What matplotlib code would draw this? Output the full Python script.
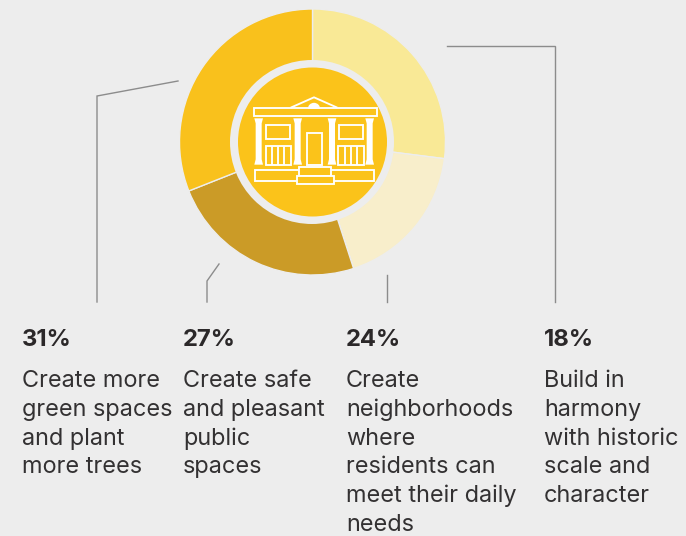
import matplotlib
matplotlib.use("Agg")
import matplotlib.pyplot as plt
from matplotlib.patches import Circle, Rectangle, Polygon, Wedge

# Survey shares, clockwise from twelve o'clock
shares = [27, 18, 24, 31]
slice_colors = ["#f9e996", "#f8eecb", "#cb9b27", "#f9c11c"]

pct_labels = ["31%", "27%", "24%", "18%"]
descriptions = [
    ["Create more", "green spaces", "and plant", "more trees"],
    ["Create safe", "and pleasant", "public", "spaces"],
    ["Create", "neighborhoods", "where", "residents can", "meet their daily", "needs"],
    ["Build in", "harmony", "with historic", "scale and", "character"],
]
text_x = [22, 183, 346, 544]
leaders = [
    [(178, 81), (97, 96), (97, 302)],
    [(219, 264), (207, 281), (207, 302)],
    [(387, 275), (387, 302)],
    [(447, 46), (555, 46), (555, 302)],
]

BG = "#ededed"
GOLD = "#fbc31a"
W, H = 686, 536
CX, CY = 312.5, 142
ICON_LW = 1.35

plt.rcParams["font.family"] = ["Inter", "DejaVu Sans"]
fig = plt.figure(figsize=(W / 100, H / 100), dpi=100, facecolor=BG)
ax = fig.add_axes([0, 0, 1, 1])


def Y(py):
    return H - py


ax.pie(shares, colors=slice_colors, startangle=90, counterclock=False,
       center=(CX, Y(CY)), radius=133,
       wedgeprops=dict(edgecolor=BG, linewidth=1.0))
ax.set_xlim(0, W)
ax.set_ylim(0, H)
ax.set_aspect("equal")
ax.axis("off")

# Central medallion
ax.add_patch(Circle((CX - 0.5, Y(CY)), 82, fc=BG, ec="none", zorder=3))
ax.add_patch(Circle((CX, Y(CY)), 74.5, fc=GOLD, ec="none", zorder=4))


# Building icon, laid out on a local grid anchored at the medallion's corner
def ix(v):
    return 225 + v / 3


def iy(v):
    return Y(50 + v / 3)


def outline_rect(x0, y0, x1, y1, fill="none", z=5):
    ax.add_patch(Rectangle((ix(x0), iy(y1)), (x1 - x0) / 3, (y1 - y0) / 3,
                           fc=fill, ec="white", lw=ICON_LW, zorder=z))


def line(xs, ys, z=5):
    ax.plot([ix(v) for v in xs], [iy(v) for v in ys], color="white",
            lw=ICON_LW, zorder=z, solid_capstyle="butt")


line([197, 267, 337], [173, 142, 173])
outline_rect(87, 173, 455, 197)
ax.add_patch(Wedge((ix(267), iy(177)), 6.2, 0, 180, fc="white", ec="none", zorder=7))

for c in [101, 218, 321, 434]:
    pts = [(c - 13, 205), (c + 13, 205), (c + 9, 220), (c + 9, 328),
           (c + 13, 344), (c - 13, 344), (c - 9, 328), (c - 9, 220)]
    ax.add_patch(Polygon([(ix(a), iy(b)) for a, b in pts], fc="white", ec="none", zorder=5))

outline_rect(122, 225, 195, 266)
outline_rect(342, 225, 415, 266)
outline_rect(245, 250, 292, 344)
outline_rect(122, 287, 197, 344)
outline_rect(340, 287, 416, 344)
for d in [140, 159, 178, 359, 378, 397]:
    line([d, d], [287, 344])

outline_rect(89, 361, 447, 394)
outline_rect(222, 352, 318, 378, fill=GOLD, z=6)
outline_rect(215, 378, 326, 402, fill=GOLD, z=6)

# Leader lines
for path in leaders:
    ax.plot([p[0] for p in path], [Y(p[1]) for p in path],
            color="#8c8c8c", lw=1.0, zorder=2, solid_joinstyle="miter")

# Labels under the ring
for x, pct, desc in zip(text_x, pct_labels, descriptions):
    ax.text(x, Y(346), pct, fontsize=17.2, fontweight="bold", color="#2b2829", va="baseline")
    for i, row in enumerate(desc):
        ax.text(x, Y(387 + i * 28.8), row, fontsize=16.9, color="#333132", va="baseline")

fig.savefig("out.png", dpi=100, facecolor=BG)
